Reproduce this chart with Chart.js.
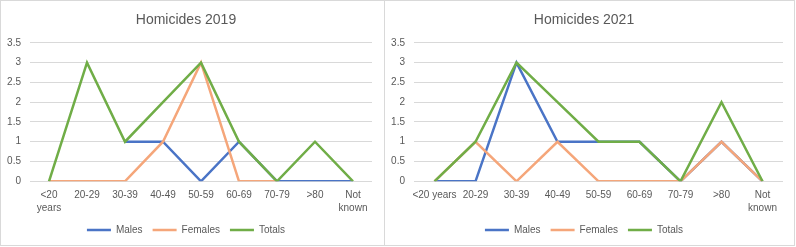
<!DOCTYPE html>
<html><head><meta charset="utf-8">
<script src="https://cdn.jsdelivr.net/npm/chart.js@4"></script>
<style>
html,body{margin:0;padding:0;background:#fff;}
body{width:796px;height:247px;position:relative;overflow:hidden;}
.box{position:absolute;top:0;height:246px;border:1px solid #d9d9d9;box-sizing:border-box;}
canvas{position:absolute;top:0;}
</style></head><body>
<div class="box" style="left:0;width:385px"></div>
<div class="box" style="left:384px;width:411px"></div>
<canvas id="c1" width="384" height="246" style="left:0"></canvas>
<canvas id="c2" width="410" height="246" style="left:385px"></canvas>
<script>
const labels2019 = [["<20","years"],"20-29","30-39","40-49","50-59","60-69","70-79",">80",["Not","known"]];
const labels2021 = ["<20 years","20-29","30-39","40-49","50-59","60-69","70-79",">80",["Not","known"]];
const males2019   = [null,null,1,1,0,1,0,0,0];
const females2019 = [0,0,0,1,3,0,0,null,null];
const totals2019  = [0,3,1,2,3,1,0,1,0];
const males2021   = [0,0,3,1,1,1,0,1,0];
const females2021 = [0,1,0,1,0,0,0,1,0];
const totals2021  = [0,1,3,2,1,1,0,2,0];
const yTicks = [0,0.5,1,1.5,2,2.5,3,3.5];

const FONT = "Liberation Sans, Arial, sans-serif";
const TXT = "#595959";

function make(id, title, labels, m, f, t, yWidth) {
  const ds = (label, data, color, order) => ({label, data, borderColor: color, backgroundColor: color,
    borderWidth: 2.5, pointRadius: 0, tension: 0, fill: false, order, spanGaps: false});
  new Chart(document.getElementById(id), {
    type: 'line',
    data: { labels, datasets: [ds("Males", m, "#4a74c6", 3), ds("Females", f, "#f5a67a", 2), ds("Totals", t, "#70ad47", 1)] },
    options: {
      responsive: false, animation: false,
      layout: { padding: { left: 0, right: 12, top: 0, bottom: 1 } },
      plugins: {
        title: { display: true, text: title, color: TXT, font: { family: FONT, size: 14, weight: 'normal', lineHeight: 1.2 },
                 padding: { top: 12, bottom: 14 } },
        legend: { position: 'bottom', labels: { color: TXT, font: { family: FONT, size: 10 }, boxWidth: 24, boxHeight: 0, padding: 10,
                  sort: (a, b) => a.datasetIndex - b.datasetIndex } },
        tooltip: { enabled: false }
      },
      scales: {
        x: { offset: true, grid: { display: false, drawTicks: false }, border: { display: false },
             ticks: { color: TXT, font: { family: FONT, size: 10, lineHeight: '13px' }, padding: 7, maxRotation: 0, autoSkip: false },
             afterFit: s => { s.height = 33.7; } },
        y: { min: 0, max: 3.5, grid: { color: "#d9d9d9", drawTicks: false }, border: { display: false },
             afterBuildTicks: s => { s.ticks = yTicks.map(v => ({ value: v })); },
             ticks: { color: TXT, font: { family: FONT, size: 10 }, padding: 9, callback: v => String(v) },
             afterFit: s => { s.width = yWidth; } }
      }
    }
  });
}
make("c1", "Homicides 2019", labels2019, males2019, females2019, totals2019, 30);
make("c2", "Homicides 2021", labels2021, males2021, females2021, totals2021, 29);
</script>
</body></html>
